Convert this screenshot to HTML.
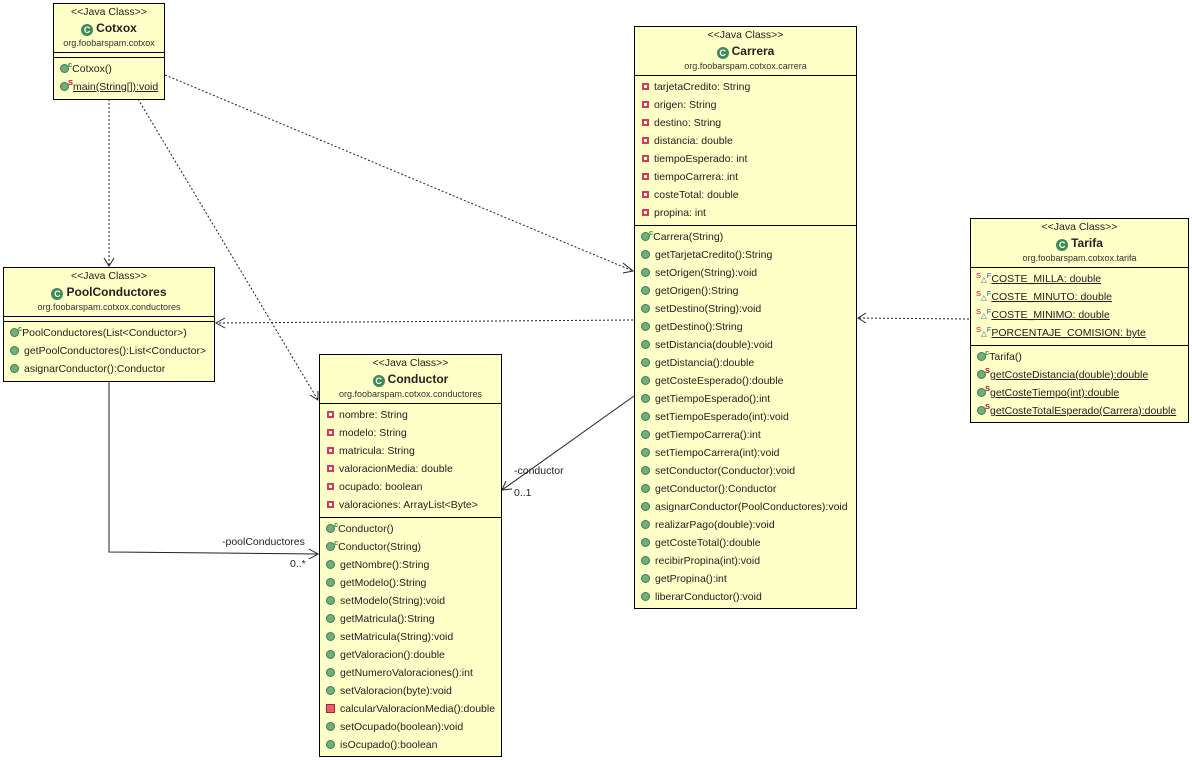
<!DOCTYPE html>
<html><head><meta charset="utf-8"><style>
body{margin:0;width:1192px;height:760px;background:#fff;position:relative;overflow:hidden;font-family:"Liberation Sans",sans-serif;color:#222}
.box{position:absolute;background:#ffffc8;border:1px solid #000;box-sizing:border-box}
.hd{position:relative;height:48px;border-bottom:1px solid #000;text-align:center}
.st{position:absolute;left:0;right:0;top:1px;font-size:10.5px;line-height:14px}
.nm{position:absolute;left:0;right:0;top:16px;font-size:12px;font-weight:bold;line-height:16px}
.pk{position:absolute;left:0;right:0;top:33px;font-size:9px;line-height:13px;color:#333}
.ci{display:inline-block;width:12px;height:12px;border-radius:50%;background:#3d8b55;color:#fff;font-size:9px;line-height:12px;text-align:center;vertical-align:-1px;margin-right:3px;font-weight:bold}
.sec{border-bottom:1px solid #000;padding:2px 0 3px 0}
.sec:last-child{border-bottom:none}
.emp{height:4px;border-bottom:1px solid #000}
.r{height:18px;line-height:18px;font-size:10.5px;padding-left:6px;white-space:nowrap;position:relative}
.u{text-decoration:underline}
.pub{display:inline-block;width:7px;height:7px;border-radius:50%;background:#6fae7e;border:1px solid #3f7c50;margin-right:5px;vertical-align:-1px}
.priv{display:inline-block;width:3px;height:3px;background:#fff;border:2px solid #d63a55;margin-right:5px;vertical-align:0px;margin-left:1px}
.privm{display:inline-block;width:7px;height:7px;background:#e06070;border:1px solid #b02030;margin-right:5px;vertical-align:-1px}
.sup{position:relative;top:-5px;font-size:7.5px;margin-left:-6px;margin-right:0px;font-weight:bold}
.gc{color:#1a9a30}.rs{color:#c0003a}.bf{color:#2060b0}
.tf{font-size:7.5px;position:relative}
</style></head><body>

<svg width="1192" height="760" style="position:absolute;left:0;top:0" xmlns="http://www.w3.org/2000/svg">
<g stroke="#222" fill="none" stroke-width="1">
<g stroke-dasharray="2,2">
<line x1="109" y1="99" x2="109" y2="266"/>
<line x1="138" y1="99" x2="318" y2="400"/>
<line x1="165" y1="75" x2="633" y2="271"/>
<line x1="633" y1="320" x2="216" y2="323"/>
<line x1="969" y1="319" x2="858" y2="318"/>
</g>
<polyline points="104,258 109,266 114,258"/>
<polyline points="310,395 318,400 318,391"/>
<polyline points="623,263 633,271 623,273"/>
<polyline points="225,318 216,323 225,328"/>
<polyline points="866,313 858,318 866,323"/>
<polyline points="109,381 109,552 318,554"/>
<polyline points="309,549 318,554 309,559"/>
<line x1="634" y1="396" x2="502" y2="490"/>
<polyline points="506,481 502,490 512,489"/>
</g>
<g font-family="Liberation Sans, sans-serif" font-size="10.5" fill="#222">
<text x="222" y="545">-poolConductores</text>
<text x="290" y="567">0..*</text>
<text x="514" y="474">-conductor</text>
<text x="514" y="496">0..1</text>
</g>
</svg>

<!-- Cotxox -->
<div class="box" style="left:53px;top:3px;width:112px;height:97px">
<div class="hd"><div class="st">&lt;&lt;Java Class&gt;&gt;</div><div class="nm"><span class="ci">C</span>Cotxox</div><div class="pk">org.foobarspam.cotxox</div></div>
<div class="emp"></div>
<div class="sec">
<div class="r"><span class="pub"></span><span class="sup gc">c</span>Cotxox()</div>
<div class="r"><span class="pub"></span><span class="sup rs">S</span><span class="u">main(String[]):void</span></div>
</div></div>

<!-- Carrera -->
<div class="box" style="left:634px;top:26px;width:223px;height:583px">
<div class="hd"><div class="st">&lt;&lt;Java Class&gt;&gt;</div><div class="nm"><span class="ci">C</span>Carrera</div><div class="pk">org.foobarspam.cotxox.carrera</div></div>
<div class="sec">
<div class="r"><span class="priv"></span>tarjetaCredito: String</div>
<div class="r"><span class="priv"></span>origen: String</div>
<div class="r"><span class="priv"></span>destino: String</div>
<div class="r"><span class="priv"></span>distancia: double</div>
<div class="r"><span class="priv"></span>tiempoEsperado: int</div>
<div class="r"><span class="priv"></span>tiempoCarrera: int</div>
<div class="r"><span class="priv"></span>costeTotal: double</div>
<div class="r"><span class="priv"></span>propina: int</div>
</div>
<div class="sec">
<div class="r"><span class="pub"></span><span class="sup gc">c</span>Carrera(String)</div>
<div class="r"><span class="pub"></span>getTarjetaCredito():String</div>
<div class="r"><span class="pub"></span>setOrigen(String):void</div>
<div class="r"><span class="pub"></span>getOrigen():String</div>
<div class="r"><span class="pub"></span>setDestino(String):void</div>
<div class="r"><span class="pub"></span>getDestino():String</div>
<div class="r"><span class="pub"></span>setDistancia(double):void</div>
<div class="r"><span class="pub"></span>getDistancia():double</div>
<div class="r"><span class="pub"></span>getCosteEsperado():double</div>
<div class="r"><span class="pub"></span>getTiempoEsperado():int</div>
<div class="r"><span class="pub"></span>setTiempoEsperado(int):void</div>
<div class="r"><span class="pub"></span>getTiempoCarrera():int</div>
<div class="r"><span class="pub"></span>setTiempoCarrera(int):void</div>
<div class="r"><span class="pub"></span>setConductor(Conductor):void</div>
<div class="r"><span class="pub"></span>getConductor():Conductor</div>
<div class="r"><span class="pub"></span>asignarConductor(PoolConductores):void</div>
<div class="r"><span class="pub"></span>realizarPago(double):void</div>
<div class="r"><span class="pub"></span>getCosteTotal():double</div>
<div class="r"><span class="pub"></span>recibirPropina(int):void</div>
<div class="r"><span class="pub"></span>getPropina():int</div>
<div class="r"><span class="pub"></span>liberarConductor():void</div>
</div></div>

<!-- Tarifa -->
<div class="box" style="left:970px;top:218px;width:219px;height:205px">
<div class="hd"><div class="st">&lt;&lt;Java Class&gt;&gt;</div><div class="nm"><span class="ci">C</span>Tarifa</div><div class="pk">org.foobarspam.cotxox.tarifa</div></div>
<div class="sec">
<div class="r" style="padding-left:5px"><span class="rs tf" style="top:-4px">S</span><span class="bf tf">&#9651;</span><span class="bf tf" style="top:-4px">F</span><span class="u">COSTE_MILLA: double</span></div>
<div class="r" style="padding-left:5px"><span class="rs tf" style="top:-4px">S</span><span class="bf tf">&#9651;</span><span class="bf tf" style="top:-4px">F</span><span class="u">COSTE_MINUTO: double</span></div>
<div class="r" style="padding-left:5px"><span class="rs tf" style="top:-4px">S</span><span class="bf tf">&#9651;</span><span class="bf tf" style="top:-4px">F</span><span class="u">COSTE_MINIMO: double</span></div>
<div class="r" style="padding-left:5px"><span class="rs tf" style="top:-4px">S</span><span class="bf tf">&#9651;</span><span class="bf tf" style="top:-4px">F</span><span class="u">PORCENTAJE_COMISION: byte</span></div>
</div>
<div class="sec">
<div class="r"><span class="pub"></span><span class="sup gc">c</span>Tarifa()</div>
<div class="r"><span class="pub"></span><span class="sup rs">S</span><span class="u">getCosteDistancia(double):double</span></div>
<div class="r"><span class="pub"></span><span class="sup rs">S</span><span class="u">getCosteTiempo(int):double</span></div>
<div class="r"><span class="pub"></span><span class="sup rs">S</span><span class="u">getCosteTotalEsperado(Carrera):double</span></div>
</div></div>

<!-- PoolConductores -->
<div class="box" style="left:3px;top:267px;width:212px;height:115px">
<div class="hd"><div class="st">&lt;&lt;Java Class&gt;&gt;</div><div class="nm"><span class="ci">C</span>PoolConductores</div><div class="pk">org.foobarspam.cotxox.conductores</div></div>
<div class="emp"></div>
<div class="sec">
<div class="r"><span class="pub"></span><span class="sup gc">c</span>PoolConductores(List&lt;Conductor&gt;)</div>
<div class="r"><span class="pub"></span>getPoolConductores():List&lt;Conductor&gt;</div>
<div class="r"><span class="pub"></span>asignarConductor():Conductor</div>
</div></div>

<!-- Conductor -->
<div class="box" style="left:319px;top:354px;width:183px;height:403px">
<div class="hd"><div class="st">&lt;&lt;Java Class&gt;&gt;</div><div class="nm"><span class="ci">C</span>Conductor</div><div class="pk">org.foobarspam.cotxox.conductores</div></div>
<div class="sec">
<div class="r"><span class="priv"></span>nombre: String</div>
<div class="r"><span class="priv"></span>modelo: String</div>
<div class="r"><span class="priv"></span>matricula: String</div>
<div class="r"><span class="priv"></span>valoracionMedia: double</div>
<div class="r"><span class="priv"></span>ocupado: boolean</div>
<div class="r"><span class="priv"></span>valoraciones: ArrayList&lt;Byte&gt;</div>
</div>
<div class="sec">
<div class="r"><span class="pub"></span><span class="sup gc">c</span>Conductor()</div>
<div class="r"><span class="pub"></span><span class="sup gc">c</span>Conductor(String)</div>
<div class="r"><span class="pub"></span>getNombre():String</div>
<div class="r"><span class="pub"></span>getModelo():String</div>
<div class="r"><span class="pub"></span>setModelo(String):void</div>
<div class="r"><span class="pub"></span>getMatricula():String</div>
<div class="r"><span class="pub"></span>setMatricula(String):void</div>
<div class="r"><span class="pub"></span>getValoracion():double</div>
<div class="r"><span class="pub"></span>getNumeroValoraciones():int</div>
<div class="r"><span class="pub"></span>setValoracion(byte):void</div>
<div class="r"><span class="privm"></span>calcularValoracionMedia():double</div>
<div class="r"><span class="pub"></span>setOcupado(boolean):void</div>
<div class="r"><span class="pub"></span>isOcupado():boolean</div>
</div></div>

</body></html>
